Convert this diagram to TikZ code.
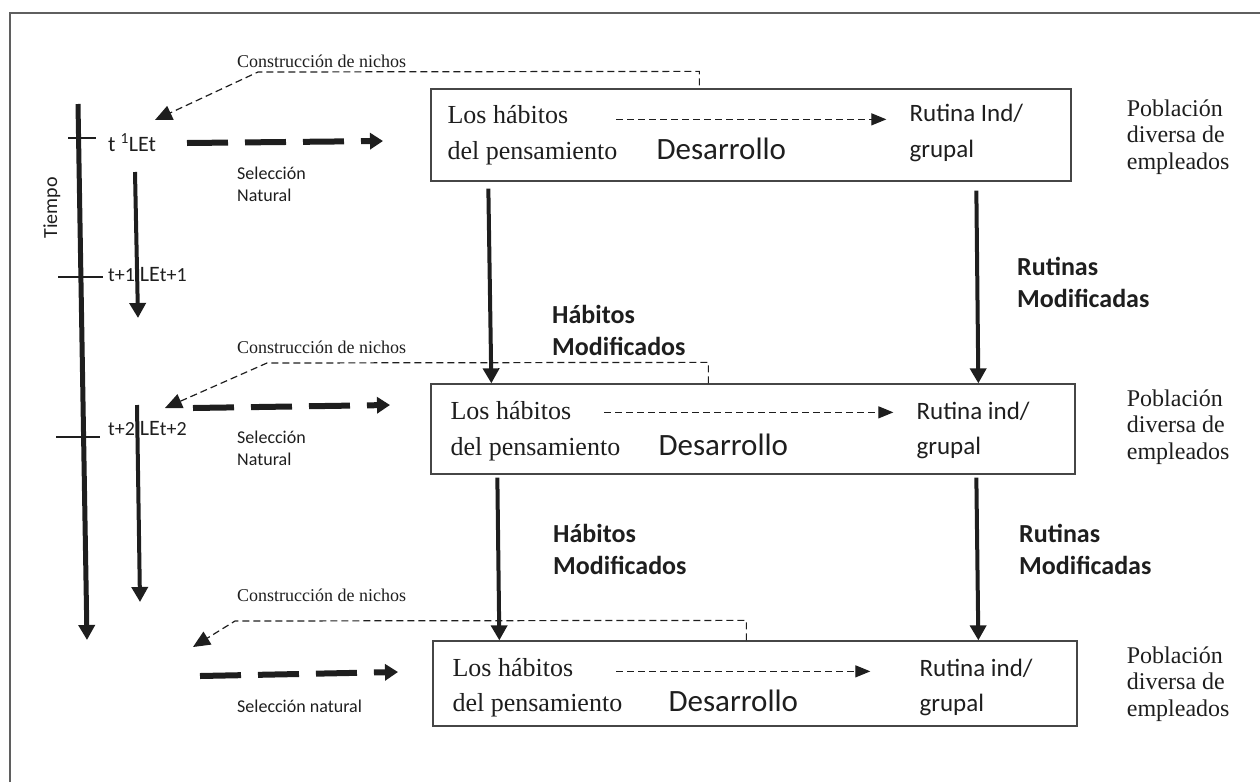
\documentclass[tikz,border=0pt]{standalone}
\usepackage{fontspec}
\setmainfont{Liberation Serif}
\setsansfont{Carlito}
\usepackage{tikz}
\usetikzlibrary{positioning, arrows.meta}
\definecolor{inkgray}{RGB}{30,30,30}
\definecolor{boxgray}{RGB}{70,70,70}
\definecolor{framegray}{RGB}{95,95,95}
\tikzset{
  habbox/.style = {rectangle, draw=boxgray, line width=1.3pt, inner sep=0pt},
  habtext/.style = {anchor=base west, inner sep=0pt, text=inkgray,
                    font=\fontsize{26}{36}\selectfont},
  devtext/.style = {anchor=base west, inner sep=0pt, text=inkgray,
                    font=\sffamily\fontsize{31}{34}\selectfont},
  rutext/.style = {anchor=base west, inner sep=0pt, text=inkgray,
                   font=\sffamily\fontsize{25}{36}\selectfont},
  poptext/.style = {anchor=base west, inner sep=0pt, align=left, text=inkgray,
                    font=\fontsize{24}{26.5}\selectfont},
  modtext/.style = {anchor=base west, inner sep=0pt, align=left, text=inkgray,
                    font=\sffamily\bfseries\fontsize{26}{32}\selectfont},
  seltext/.style = {anchor=base west, inner sep=0pt, align=left, text=inkgray,
                    font=\sffamily\fontsize{18}{22}\selectfont},
  nichetext/.style = {anchor=base west, inner sep=0pt, text=inkgray,
                      font=\fontsize{18}{22}\selectfont},
  timetext/.style = {anchor=base west, inner sep=0pt, text=inkgray,
                     font=\sffamily\fontsize{22}{24}\selectfont},
  fatarrow/.style = {-{Triangle[length=15pt, width=16pt]}, line width=4pt, draw=inkgray},
  seldash/.style = {-{Triangle[length=13pt, width=16pt]}, line width=6pt, draw=inkgray,
                    dash pattern=on 41pt off 17pt},
  nichedash/.style = {-{Triangle[length=17pt, width=15pt]}, line width=1.2pt, draw=inkgray,
                      dash pattern=on 7pt off 4pt},
  devdash/.style = {-{Triangle[length=15pt, width=12pt]}, line width=1.2pt, draw=inkgray,
                    dash pattern=on 7pt off 4pt},
  tick/.style = {line width=1.2pt, draw=inkgray}
}

\begin{document}
\begin{tikzpicture}[x=1pt, y=-1pt]
\useasboundingbox (0,0) rectangle (1260,782);
\draw[framegray, line width=1.5pt] (10,782) -- (10,13) -- (1260,13);

% eje del tiempo
\coordinate (tiempoA) at (78,104);
\coordinate (tiempoB) at (87,640);
\draw[fatarrow, line width=5pt] (tiempoA) -- (tiempoB);
\node[anchor=base, rotate=90, inner sep=0pt, text=inkgray,
      font=\sffamily\fontsize{20}{22}\selectfont] (tiempo) at (57,208) {Tiempo};
\draw[tick] (68,138) -- (96,138);
\draw[tick] (58,277) -- (103,277);
\draw[tick] (56,437) -- (100,437);

\node[timetext] (le1) at (108,151) {t \textsuperscript{1}LEt};
\node[timetext] (le2) at (108,281) {{\fontsize{20}{22}\selectfont t+1} LE{\fontsize{20}{22}\selectfont t+1}};
\node[timetext] (le3) at (108,435) {{\fontsize{20}{22}\selectfont t+2} LE{\fontsize{20}{22}\selectfont t+2}};

\coordinate (pasoA1) at (135,172);
\coordinate (pasoB1) at (138,318);
\coordinate (pasoA2) at (137,405);
\coordinate (pasoB2) at (140,602);
\draw[fatarrow] (pasoA1) -- (pasoB1);
\draw[fatarrow] (pasoA2) -- (pasoB2);

% cajas
\node[habbox, minimum width=640pt, minimum height=92pt] (b1) at (751,135) {};
\node[habbox, minimum width=644pt, minimum height=90pt] (b2) at (753,429) {};
\node[habbox, minimum width=644pt, minimum height=85pt] (b3) at (755,683.5) {};

\node[habtext] (h1) at ([shift={(17,35)}]b1.north west) {Los hábitos};
\node[habtext] (p1) at ([shift={(17,71)}]b1.north west) {del pensamiento};
\node[devtext] (d1) at ([shift={(226,71)}]b1.north west) {Desarrollo};
\node[rutext] (r1) at ([shift={(479,33)}]b1.north west) {Rutina Ind/};
\node[rutext] (g1) at ([shift={(479,69)}]b1.north west) {grupal};
\node[poptext] (pop1) at ([shift={(55,81)}]b1.north east) {Población\\diversa de\\empleados};

\node[habtext] (h2) at ([shift={(20,36)}]b2.north west) {Los hábitos};
\node[habtext] (p2) at ([shift={(20,72)}]b2.north west) {del pensamiento};
\node[devtext] (d2) at ([shift={(228,72)}]b2.north west) {Desarrollo};
\node[rutext] (r2) at ([shift={(486,36)}]b2.north west) {Rutina ind/};
\node[rutext] (g2) at ([shift={(486,71)}]b2.north west) {grupal};
\node[poptext] (pop2) at ([shift={(51,76)}]b2.north east) {Población\\diversa de\\empleados};

\node[habtext] (h3) at ([shift={(20,36)}]b3.north west) {Los hábitos};
\node[habtext] (p3) at ([shift={(20,71)}]b3.north west) {del pensamiento};
\node[devtext] (d3) at ([shift={(236,71)}]b3.north west) {Desarrollo};
\node[rutext] (r3) at ([shift={(487,36)}]b3.north west) {Rutina ind/};
\node[rutext] (g3) at ([shift={(487,71)}]b3.north west) {grupal};
\node[poptext] (pop3) at ([shift={(49,76)}]b3.north east) {Población\\diversa de\\empleados};

% desarrollo (flechas punteadas dentro de las cajas)
\draw[devdash] ([shift={(186,31)}]b1.north west) -- ([shift={(456,31)}]b1.north west);
\draw[devdash] ([shift={(174,29)}]b2.north west) -- ([shift={(463,29)}]b2.north west);
\draw[devdash] ([shift={(184,31)}]b3.north west) -- ([shift={(438,31)}]b3.north west);

% habitos y rutinas modificados
\draw[fatarrow] ([shift={(58,7)}]b1.south west) -- ([xshift=61pt]b2.north west);
\draw[fatarrow] ([shift={(546,9)}]b1.south west) -- ([xshift=548pt]b2.north west);
\draw[fatarrow] ([shift={(67,3)}]b2.south west) -- ([xshift=67pt]b3.north west);
\draw[fatarrow] ([shift={(546,3)}]b2.south west) -- ([xshift=546pt]b3.north west);

\node[modtext] (hm1) at (552,355) {Hábitos\\Modificados};
\node[modtext] (hm2) at (553,574) {Hábitos\\Modificados};
\node[modtext] (rm1) at (1017,307) {Rutinas\\Modificadas};
\node[modtext] (rm2) at (1019,574) {Rutinas\\Modificadas};

% seleccion natural
\coordinate (selA1) at (187,143);
\coordinate (selB1) at (383,141);
\coordinate (selA2) at (193,408);
\coordinate (selB2) at (390,405);
\coordinate (selA3) at (200,676);
\coordinate (selB3) at (398,672);
\draw[seldash] (selA1) -- (selB1);
\draw[seldash] (selA2) -- (selB2);
\draw[seldash] (selA3) -- (selB3);
\node[seltext] (sn1) at (237,201) {Selección\\Natural};
\node[seltext] (sn2) at (237,465) {Selección\\Natural};
\node[seltext] (sn3) at (237,712) {Selección natural};

% construccion de nichos
\coordinate (nk1) at (258,72);
\coordinate (nt1) at (155,120);
\coordinate (nk2) at (267,363);
\coordinate (nt2) at (165,408);
\coordinate (nk3) at (235,621);
\coordinate (nt3) at (193,647);
\draw[nichedash] ([shift={(269,-3)}]b1.north west) -- ++(0,-14) -- (nk1) -- (nt1);
\draw[nichedash] ([xshift=278pt]b2.north west) -- ++(0,-21) -- (nk2) -- (nt2);
\draw[nichedash] ([xshift=314pt]b3.north west) -- ++(0,-20) -- (nk3) -- (nt3);
\node[nichetext] (nc1) at (237,67) {Construcción de nichos};
\node[nichetext] (nc2) at (237,353) {Construcción de nichos};
\node[nichetext] (nc3) at (237,601) {Construcción de nichos};
\end{tikzpicture}
\end{document}
